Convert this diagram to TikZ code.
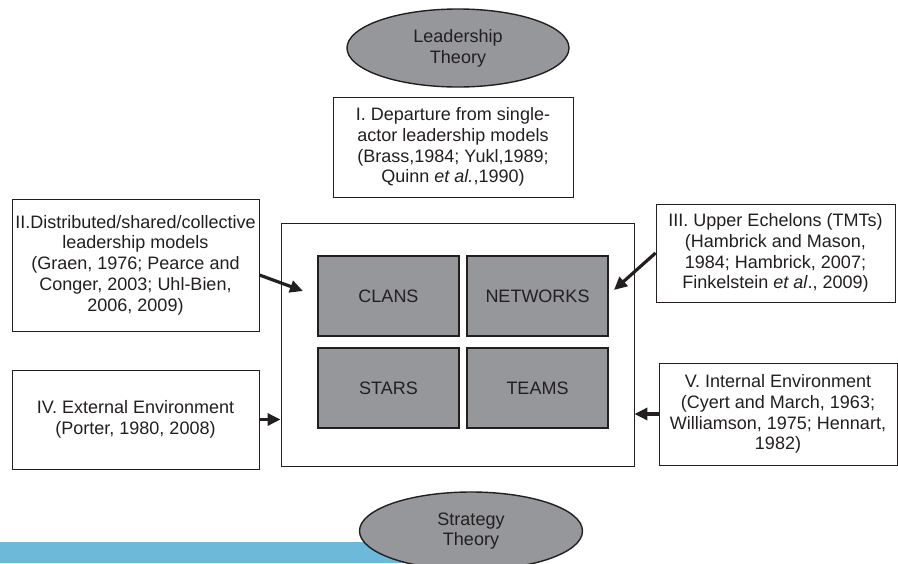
\documentclass[tikz,border=0pt]{standalone}
\usepackage{fontspec}
\setmainfont{Liberation Sans}
\usetikzlibrary{arrows.meta,calc,shapes.geometric}
\definecolor{txt}{RGB}{35,31,32}
\definecolor{fillg}{RGB}{150,151,154}
\definecolor{barblue}{RGB}{109,185,218}
\begin{document}
\begin{tikzpicture}[x=1pt,y=-1pt,
  every node/.style={text=txt,font=\fontsize{18}{20.8}\selectfont},
  tbox/.style={draw=txt,line width=0.9pt,fill=white,align=center,inner sep=0pt},
  cell/.style={draw=txt,line width=2.4pt,fill=fillg,inner sep=0pt,minimum width=141pt,minimum height=80pt},
  oval/.style={draw=txt,line width=1.4pt,fill=fillg,ellipse,inner sep=0pt,align=center},
  arr/.style={draw=txt,line width=3.2pt,-{Triangle[length=13pt,width=12pt]}}]
\useasboundingbox (0,0) rectangle (898,563);
% blue bar
\fill[barblue] (0,542) rectangle (420,563);
% ellipses
\node[oval,minimum width=222pt,minimum height=78pt] (lead) at (458,48) {Leadership\\Theory};
\node[oval,minimum width=223pt,minimum height=78pt] (strat) at (471,531) {Strategy\\Theory};
% boxes
\node[tbox,minimum width=240pt,minimum height=100pt] (b1) at (453,147) {I. Departure from single-\\actor leadership models\\(Brass,1984; Yukl,1989;\\Quinn \textit{et al.},1990)};
\node[tbox,minimum width=247pt,minimum height=132pt] (b2) at (135.5,265) {II.Distributed/shared/collective\\leadership models\\(Graen, 1976; Pearce and\\Conger, 2003; Uhl-Bien,\\2006, 2009)};
\node[tbox,minimum width=239pt,minimum height=98pt] (b3) at (775.5,253) {III. Upper Echelons (TMTs)\\(Hambrick and Mason,\\1984; Hambrick, 2007;\\Finkelstein \textit{et al}., 2009)};
\node[tbox,minimum width=247pt,minimum height=99pt] (b4) at (135.5,419.5) {IV. External Environment\\(Porter, 1980, 2008)};
\node[tbox,minimum width=238pt,minimum height=102pt] (b5) at (778,414) {V. Internal Environment\\(Cyert and March, 1963;\\Williamson, 1975; Hennart,\\1982)};
\node[tbox,minimum width=353pt,minimum height=243pt] (main) at (457.5,344.5) {};
% cells
\node[cell] (clans) at (388.5,296) {CLANS};
\node[cell] (net) at (537.5,296) {NETWORKS};
\node[cell] (stars) at (388.5,388) {STARS};
\node[cell] (teams) at (537.5,388) {TEAMS};
% arrows
\coordinate (t2) at (303,291);
\coordinate (t3) at (614,290);
\draw[arr] ([yshift=-10pt]b2.east) -- (t2);
\draw[arr] (b3.west) -- (t3);
\draw[arr] (b4.east) -- (b4.east -| main.west);
\draw[arr] (b5.west) -- (b5.west -| main.east);
\end{tikzpicture}
\end{document}
